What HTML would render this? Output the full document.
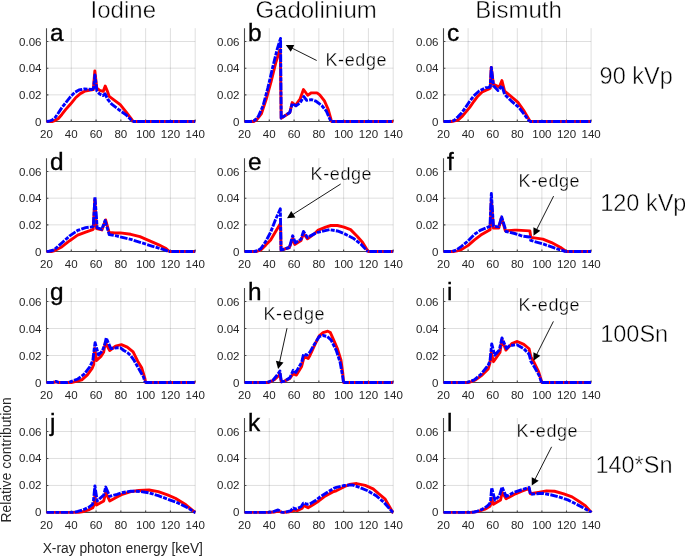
<!DOCTYPE html><html><head><meta charset="utf-8"><style>html,body{margin:0;padding:0;background:#fff;}svg{display:block;}text{filter:grayscale(1);font-family:"Liberation Sans", sans-serif;}</style></head><body>
<svg width="685" height="556" viewBox="0 0 685 556">
<rect width="685" height="556" fill="#fff"/>
<path d="M71.28 28.19V121.50M96.07 28.19V121.50M120.85 28.19V121.50M145.63 28.19V121.50M170.42 28.19V121.50M195.20 28.19V121.50M46.50 94.84H195.20M46.50 68.18H195.20M46.50 41.52H195.20" stroke="#262626" stroke-opacity="0.15" stroke-width="1" fill="none"/>
<path d="M269.28 28.19V121.50M294.07 28.19V121.50M318.85 28.19V121.50M343.63 28.19V121.50M368.42 28.19V121.50M393.20 28.19V121.50M244.50 94.84H393.20M244.50 68.18H393.20M244.50 41.52H393.20" stroke="#262626" stroke-opacity="0.15" stroke-width="1" fill="none"/>
<path d="M468.10 28.19V121.50M492.70 28.19V121.50M517.30 28.19V121.50M541.90 28.19V121.50M566.50 28.19V121.50M591.10 28.19V121.50M443.50 94.84H591.10M443.50 68.18H591.10M443.50 41.52H591.10" stroke="#262626" stroke-opacity="0.15" stroke-width="1" fill="none"/>
<path d="M71.28 158.19V251.50M96.07 158.19V251.50M120.85 158.19V251.50M145.63 158.19V251.50M170.42 158.19V251.50M195.20 158.19V251.50M46.50 224.84H195.20M46.50 198.18H195.20M46.50 171.52H195.20" stroke="#262626" stroke-opacity="0.15" stroke-width="1" fill="none"/>
<path d="M269.28 158.19V251.50M294.07 158.19V251.50M318.85 158.19V251.50M343.63 158.19V251.50M368.42 158.19V251.50M393.20 158.19V251.50M244.50 224.84H393.20M244.50 198.18H393.20M244.50 171.52H393.20" stroke="#262626" stroke-opacity="0.15" stroke-width="1" fill="none"/>
<path d="M468.10 158.19V251.50M492.70 158.19V251.50M517.30 158.19V251.50M541.90 158.19V251.50M566.50 158.19V251.50M591.10 158.19V251.50M443.50 224.84H591.10M443.50 198.18H591.10M443.50 171.52H591.10" stroke="#262626" stroke-opacity="0.15" stroke-width="1" fill="none"/>
<path d="M71.28 288.00V382.50M96.07 288.00V382.50M120.85 288.00V382.50M145.63 288.00V382.50M170.42 288.00V382.50M195.20 288.00V382.50M46.50 355.50H195.20M46.50 328.50H195.20M46.50 301.50H195.20" stroke="#262626" stroke-opacity="0.15" stroke-width="1" fill="none"/>
<path d="M269.28 288.00V382.50M294.07 288.00V382.50M318.85 288.00V382.50M343.63 288.00V382.50M368.42 288.00V382.50M393.20 288.00V382.50M244.50 355.50H393.20M244.50 328.50H393.20M244.50 301.50H393.20" stroke="#262626" stroke-opacity="0.15" stroke-width="1" fill="none"/>
<path d="M468.10 288.00V382.50M492.70 288.00V382.50M517.30 288.00V382.50M541.90 288.00V382.50M566.50 288.00V382.50M591.10 288.00V382.50M443.50 355.50H591.10M443.50 328.50H591.10M443.50 301.50H591.10" stroke="#262626" stroke-opacity="0.15" stroke-width="1" fill="none"/>
<path d="M71.28 418.04V512.40M96.07 418.04V512.40M120.85 418.04V512.40M145.63 418.04V512.40M170.42 418.04V512.40M195.20 418.04V512.40M46.50 485.44H195.20M46.50 458.48H195.20M46.50 431.52H195.20" stroke="#262626" stroke-opacity="0.15" stroke-width="1" fill="none"/>
<path d="M269.28 418.04V512.40M294.07 418.04V512.40M318.85 418.04V512.40M343.63 418.04V512.40M368.42 418.04V512.40M393.20 418.04V512.40M244.50 485.44H393.20M244.50 458.48H393.20M244.50 431.52H393.20" stroke="#262626" stroke-opacity="0.15" stroke-width="1" fill="none"/>
<path d="M468.10 418.04V512.40M492.70 418.04V512.40M517.30 418.04V512.40M541.90 418.04V512.40M566.50 418.04V512.40M591.10 418.04V512.40M443.50 485.44H591.10M443.50 458.48H591.10M443.50 431.52H591.10" stroke="#262626" stroke-opacity="0.15" stroke-width="1" fill="none"/>
<path d="M46.50 28.19V121.50H195.20M71.28 121.50v-1.9M96.07 121.50v-1.9M120.85 121.50v-1.9M145.63 121.50v-1.9M170.42 121.50v-1.9M195.20 121.50v-1.9M46.50 94.84h1.9M46.50 68.18h1.9M46.50 41.52h1.9" stroke="#4a4a4a" stroke-width="1.1" fill="none"/>
<text transform="translate(41.50 125.50) scale(1.05 1)" font-size="11" fill="#262626" text-anchor="end">0</text>
<text transform="translate(41.50 98.84) scale(1.05 1)" font-size="11" fill="#262626" text-anchor="end">0.02</text>
<text transform="translate(41.50 72.18) scale(1.05 1)" font-size="11" fill="#262626" text-anchor="end">0.04</text>
<text transform="translate(41.50 45.52) scale(1.05 1)" font-size="11" fill="#262626" text-anchor="end">0.06</text>
<text transform="translate(46.50 138.10) scale(1.05 1)" font-size="11" fill="#262626" text-anchor="middle">20</text>
<text transform="translate(71.28 138.10) scale(1.05 1)" font-size="11" fill="#262626" text-anchor="middle">40</text>
<text transform="translate(96.07 138.10) scale(1.05 1)" font-size="11" fill="#262626" text-anchor="middle">60</text>
<text transform="translate(120.85 138.10) scale(1.05 1)" font-size="11" fill="#262626" text-anchor="middle">80</text>
<text transform="translate(145.63 138.10) scale(1.05 1)" font-size="11" fill="#262626" text-anchor="middle">100</text>
<text transform="translate(170.42 138.10) scale(1.05 1)" font-size="11" fill="#262626" text-anchor="middle">120</text>
<text transform="translate(195.20 138.10) scale(1.05 1)" font-size="11" fill="#262626" text-anchor="middle">140</text>
<path d="M244.50 28.19V121.50H393.20M269.28 121.50v-1.9M294.07 121.50v-1.9M318.85 121.50v-1.9M343.63 121.50v-1.9M368.42 121.50v-1.9M393.20 121.50v-1.9M244.50 94.84h1.9M244.50 68.18h1.9M244.50 41.52h1.9" stroke="#4a4a4a" stroke-width="1.1" fill="none"/>
<text transform="translate(239.50 125.50) scale(1.05 1)" font-size="11" fill="#262626" text-anchor="end">0</text>
<text transform="translate(239.50 98.84) scale(1.05 1)" font-size="11" fill="#262626" text-anchor="end">0.02</text>
<text transform="translate(239.50 72.18) scale(1.05 1)" font-size="11" fill="#262626" text-anchor="end">0.04</text>
<text transform="translate(239.50 45.52) scale(1.05 1)" font-size="11" fill="#262626" text-anchor="end">0.06</text>
<text transform="translate(244.50 138.10) scale(1.05 1)" font-size="11" fill="#262626" text-anchor="middle">20</text>
<text transform="translate(269.28 138.10) scale(1.05 1)" font-size="11" fill="#262626" text-anchor="middle">40</text>
<text transform="translate(294.07 138.10) scale(1.05 1)" font-size="11" fill="#262626" text-anchor="middle">60</text>
<text transform="translate(318.85 138.10) scale(1.05 1)" font-size="11" fill="#262626" text-anchor="middle">80</text>
<text transform="translate(343.63 138.10) scale(1.05 1)" font-size="11" fill="#262626" text-anchor="middle">100</text>
<text transform="translate(368.42 138.10) scale(1.05 1)" font-size="11" fill="#262626" text-anchor="middle">120</text>
<text transform="translate(393.20 138.10) scale(1.05 1)" font-size="11" fill="#262626" text-anchor="middle">140</text>
<path d="M443.50 28.19V121.50H591.10M468.10 121.50v-1.9M492.70 121.50v-1.9M517.30 121.50v-1.9M541.90 121.50v-1.9M566.50 121.50v-1.9M591.10 121.50v-1.9M443.50 94.84h1.9M443.50 68.18h1.9M443.50 41.52h1.9" stroke="#4a4a4a" stroke-width="1.1" fill="none"/>
<text transform="translate(438.50 125.50) scale(1.05 1)" font-size="11" fill="#262626" text-anchor="end">0</text>
<text transform="translate(438.50 98.84) scale(1.05 1)" font-size="11" fill="#262626" text-anchor="end">0.02</text>
<text transform="translate(438.50 72.18) scale(1.05 1)" font-size="11" fill="#262626" text-anchor="end">0.04</text>
<text transform="translate(438.50 45.52) scale(1.05 1)" font-size="11" fill="#262626" text-anchor="end">0.06</text>
<text transform="translate(443.50 138.10) scale(1.05 1)" font-size="11" fill="#262626" text-anchor="middle">20</text>
<text transform="translate(468.10 138.10) scale(1.05 1)" font-size="11" fill="#262626" text-anchor="middle">40</text>
<text transform="translate(492.70 138.10) scale(1.05 1)" font-size="11" fill="#262626" text-anchor="middle">60</text>
<text transform="translate(517.30 138.10) scale(1.05 1)" font-size="11" fill="#262626" text-anchor="middle">80</text>
<text transform="translate(541.90 138.10) scale(1.05 1)" font-size="11" fill="#262626" text-anchor="middle">100</text>
<text transform="translate(566.50 138.10) scale(1.05 1)" font-size="11" fill="#262626" text-anchor="middle">120</text>
<text transform="translate(591.10 138.10) scale(1.05 1)" font-size="11" fill="#262626" text-anchor="middle">140</text>
<path d="M46.50 158.19V251.50H195.20M71.28 251.50v-1.9M96.07 251.50v-1.9M120.85 251.50v-1.9M145.63 251.50v-1.9M170.42 251.50v-1.9M195.20 251.50v-1.9M46.50 224.84h1.9M46.50 198.18h1.9M46.50 171.52h1.9" stroke="#4a4a4a" stroke-width="1.1" fill="none"/>
<text transform="translate(41.50 255.50) scale(1.05 1)" font-size="11" fill="#262626" text-anchor="end">0</text>
<text transform="translate(41.50 228.84) scale(1.05 1)" font-size="11" fill="#262626" text-anchor="end">0.02</text>
<text transform="translate(41.50 202.18) scale(1.05 1)" font-size="11" fill="#262626" text-anchor="end">0.04</text>
<text transform="translate(41.50 175.52) scale(1.05 1)" font-size="11" fill="#262626" text-anchor="end">0.06</text>
<text transform="translate(46.50 268.10) scale(1.05 1)" font-size="11" fill="#262626" text-anchor="middle">20</text>
<text transform="translate(71.28 268.10) scale(1.05 1)" font-size="11" fill="#262626" text-anchor="middle">40</text>
<text transform="translate(96.07 268.10) scale(1.05 1)" font-size="11" fill="#262626" text-anchor="middle">60</text>
<text transform="translate(120.85 268.10) scale(1.05 1)" font-size="11" fill="#262626" text-anchor="middle">80</text>
<text transform="translate(145.63 268.10) scale(1.05 1)" font-size="11" fill="#262626" text-anchor="middle">100</text>
<text transform="translate(170.42 268.10) scale(1.05 1)" font-size="11" fill="#262626" text-anchor="middle">120</text>
<text transform="translate(195.20 268.10) scale(1.05 1)" font-size="11" fill="#262626" text-anchor="middle">140</text>
<path d="M244.50 158.19V251.50H393.20M269.28 251.50v-1.9M294.07 251.50v-1.9M318.85 251.50v-1.9M343.63 251.50v-1.9M368.42 251.50v-1.9M393.20 251.50v-1.9M244.50 224.84h1.9M244.50 198.18h1.9M244.50 171.52h1.9" stroke="#4a4a4a" stroke-width="1.1" fill="none"/>
<text transform="translate(239.50 255.50) scale(1.05 1)" font-size="11" fill="#262626" text-anchor="end">0</text>
<text transform="translate(239.50 228.84) scale(1.05 1)" font-size="11" fill="#262626" text-anchor="end">0.02</text>
<text transform="translate(239.50 202.18) scale(1.05 1)" font-size="11" fill="#262626" text-anchor="end">0.04</text>
<text transform="translate(239.50 175.52) scale(1.05 1)" font-size="11" fill="#262626" text-anchor="end">0.06</text>
<text transform="translate(244.50 268.10) scale(1.05 1)" font-size="11" fill="#262626" text-anchor="middle">20</text>
<text transform="translate(269.28 268.10) scale(1.05 1)" font-size="11" fill="#262626" text-anchor="middle">40</text>
<text transform="translate(294.07 268.10) scale(1.05 1)" font-size="11" fill="#262626" text-anchor="middle">60</text>
<text transform="translate(318.85 268.10) scale(1.05 1)" font-size="11" fill="#262626" text-anchor="middle">80</text>
<text transform="translate(343.63 268.10) scale(1.05 1)" font-size="11" fill="#262626" text-anchor="middle">100</text>
<text transform="translate(368.42 268.10) scale(1.05 1)" font-size="11" fill="#262626" text-anchor="middle">120</text>
<text transform="translate(393.20 268.10) scale(1.05 1)" font-size="11" fill="#262626" text-anchor="middle">140</text>
<path d="M443.50 158.19V251.50H591.10M468.10 251.50v-1.9M492.70 251.50v-1.9M517.30 251.50v-1.9M541.90 251.50v-1.9M566.50 251.50v-1.9M591.10 251.50v-1.9M443.50 224.84h1.9M443.50 198.18h1.9M443.50 171.52h1.9" stroke="#4a4a4a" stroke-width="1.1" fill="none"/>
<text transform="translate(438.50 255.50) scale(1.05 1)" font-size="11" fill="#262626" text-anchor="end">0</text>
<text transform="translate(438.50 228.84) scale(1.05 1)" font-size="11" fill="#262626" text-anchor="end">0.02</text>
<text transform="translate(438.50 202.18) scale(1.05 1)" font-size="11" fill="#262626" text-anchor="end">0.04</text>
<text transform="translate(438.50 175.52) scale(1.05 1)" font-size="11" fill="#262626" text-anchor="end">0.06</text>
<text transform="translate(443.50 268.10) scale(1.05 1)" font-size="11" fill="#262626" text-anchor="middle">20</text>
<text transform="translate(468.10 268.10) scale(1.05 1)" font-size="11" fill="#262626" text-anchor="middle">40</text>
<text transform="translate(492.70 268.10) scale(1.05 1)" font-size="11" fill="#262626" text-anchor="middle">60</text>
<text transform="translate(517.30 268.10) scale(1.05 1)" font-size="11" fill="#262626" text-anchor="middle">80</text>
<text transform="translate(541.90 268.10) scale(1.05 1)" font-size="11" fill="#262626" text-anchor="middle">100</text>
<text transform="translate(566.50 268.10) scale(1.05 1)" font-size="11" fill="#262626" text-anchor="middle">120</text>
<text transform="translate(591.10 268.10) scale(1.05 1)" font-size="11" fill="#262626" text-anchor="middle">140</text>
<path d="M46.50 288.00V382.50H195.20M71.28 382.50v-1.9M96.07 382.50v-1.9M120.85 382.50v-1.9M145.63 382.50v-1.9M170.42 382.50v-1.9M195.20 382.50v-1.9M46.50 355.50h1.9M46.50 328.50h1.9M46.50 301.50h1.9" stroke="#4a4a4a" stroke-width="1.1" fill="none"/>
<text transform="translate(41.50 386.50) scale(1.05 1)" font-size="11" fill="#262626" text-anchor="end">0</text>
<text transform="translate(41.50 359.50) scale(1.05 1)" font-size="11" fill="#262626" text-anchor="end">0.02</text>
<text transform="translate(41.50 332.50) scale(1.05 1)" font-size="11" fill="#262626" text-anchor="end">0.04</text>
<text transform="translate(41.50 305.50) scale(1.05 1)" font-size="11" fill="#262626" text-anchor="end">0.06</text>
<text transform="translate(46.50 399.10) scale(1.05 1)" font-size="11" fill="#262626" text-anchor="middle">20</text>
<text transform="translate(71.28 399.10) scale(1.05 1)" font-size="11" fill="#262626" text-anchor="middle">40</text>
<text transform="translate(96.07 399.10) scale(1.05 1)" font-size="11" fill="#262626" text-anchor="middle">60</text>
<text transform="translate(120.85 399.10) scale(1.05 1)" font-size="11" fill="#262626" text-anchor="middle">80</text>
<text transform="translate(145.63 399.10) scale(1.05 1)" font-size="11" fill="#262626" text-anchor="middle">100</text>
<text transform="translate(170.42 399.10) scale(1.05 1)" font-size="11" fill="#262626" text-anchor="middle">120</text>
<text transform="translate(195.20 399.10) scale(1.05 1)" font-size="11" fill="#262626" text-anchor="middle">140</text>
<path d="M244.50 288.00V382.50H393.20M269.28 382.50v-1.9M294.07 382.50v-1.9M318.85 382.50v-1.9M343.63 382.50v-1.9M368.42 382.50v-1.9M393.20 382.50v-1.9M244.50 355.50h1.9M244.50 328.50h1.9M244.50 301.50h1.9" stroke="#4a4a4a" stroke-width="1.1" fill="none"/>
<text transform="translate(239.50 386.50) scale(1.05 1)" font-size="11" fill="#262626" text-anchor="end">0</text>
<text transform="translate(239.50 359.50) scale(1.05 1)" font-size="11" fill="#262626" text-anchor="end">0.02</text>
<text transform="translate(239.50 332.50) scale(1.05 1)" font-size="11" fill="#262626" text-anchor="end">0.04</text>
<text transform="translate(239.50 305.50) scale(1.05 1)" font-size="11" fill="#262626" text-anchor="end">0.06</text>
<text transform="translate(244.50 399.10) scale(1.05 1)" font-size="11" fill="#262626" text-anchor="middle">20</text>
<text transform="translate(269.28 399.10) scale(1.05 1)" font-size="11" fill="#262626" text-anchor="middle">40</text>
<text transform="translate(294.07 399.10) scale(1.05 1)" font-size="11" fill="#262626" text-anchor="middle">60</text>
<text transform="translate(318.85 399.10) scale(1.05 1)" font-size="11" fill="#262626" text-anchor="middle">80</text>
<text transform="translate(343.63 399.10) scale(1.05 1)" font-size="11" fill="#262626" text-anchor="middle">100</text>
<text transform="translate(368.42 399.10) scale(1.05 1)" font-size="11" fill="#262626" text-anchor="middle">120</text>
<text transform="translate(393.20 399.10) scale(1.05 1)" font-size="11" fill="#262626" text-anchor="middle">140</text>
<path d="M443.50 288.00V382.50H591.10M468.10 382.50v-1.9M492.70 382.50v-1.9M517.30 382.50v-1.9M541.90 382.50v-1.9M566.50 382.50v-1.9M591.10 382.50v-1.9M443.50 355.50h1.9M443.50 328.50h1.9M443.50 301.50h1.9" stroke="#4a4a4a" stroke-width="1.1" fill="none"/>
<text transform="translate(438.50 386.50) scale(1.05 1)" font-size="11" fill="#262626" text-anchor="end">0</text>
<text transform="translate(438.50 359.50) scale(1.05 1)" font-size="11" fill="#262626" text-anchor="end">0.02</text>
<text transform="translate(438.50 332.50) scale(1.05 1)" font-size="11" fill="#262626" text-anchor="end">0.04</text>
<text transform="translate(438.50 305.50) scale(1.05 1)" font-size="11" fill="#262626" text-anchor="end">0.06</text>
<text transform="translate(443.50 399.10) scale(1.05 1)" font-size="11" fill="#262626" text-anchor="middle">20</text>
<text transform="translate(468.10 399.10) scale(1.05 1)" font-size="11" fill="#262626" text-anchor="middle">40</text>
<text transform="translate(492.70 399.10) scale(1.05 1)" font-size="11" fill="#262626" text-anchor="middle">60</text>
<text transform="translate(517.30 399.10) scale(1.05 1)" font-size="11" fill="#262626" text-anchor="middle">80</text>
<text transform="translate(541.90 399.10) scale(1.05 1)" font-size="11" fill="#262626" text-anchor="middle">100</text>
<text transform="translate(566.50 399.10) scale(1.05 1)" font-size="11" fill="#262626" text-anchor="middle">120</text>
<text transform="translate(591.10 399.10) scale(1.05 1)" font-size="11" fill="#262626" text-anchor="middle">140</text>
<path d="M46.50 418.04V512.40H195.20M71.28 512.40v-1.9M96.07 512.40v-1.9M120.85 512.40v-1.9M145.63 512.40v-1.9M170.42 512.40v-1.9M195.20 512.40v-1.9M46.50 485.44h1.9M46.50 458.48h1.9M46.50 431.52h1.9" stroke="#4a4a4a" stroke-width="1.1" fill="none"/>
<text transform="translate(41.50 516.40) scale(1.05 1)" font-size="11" fill="#262626" text-anchor="end">0</text>
<text transform="translate(41.50 489.44) scale(1.05 1)" font-size="11" fill="#262626" text-anchor="end">0.02</text>
<text transform="translate(41.50 462.48) scale(1.05 1)" font-size="11" fill="#262626" text-anchor="end">0.04</text>
<text transform="translate(41.50 435.52) scale(1.05 1)" font-size="11" fill="#262626" text-anchor="end">0.06</text>
<text transform="translate(46.50 529.00) scale(1.05 1)" font-size="11" fill="#262626" text-anchor="middle">20</text>
<text transform="translate(71.28 529.00) scale(1.05 1)" font-size="11" fill="#262626" text-anchor="middle">40</text>
<text transform="translate(96.07 529.00) scale(1.05 1)" font-size="11" fill="#262626" text-anchor="middle">60</text>
<text transform="translate(120.85 529.00) scale(1.05 1)" font-size="11" fill="#262626" text-anchor="middle">80</text>
<text transform="translate(145.63 529.00) scale(1.05 1)" font-size="11" fill="#262626" text-anchor="middle">100</text>
<text transform="translate(170.42 529.00) scale(1.05 1)" font-size="11" fill="#262626" text-anchor="middle">120</text>
<text transform="translate(195.20 529.00) scale(1.05 1)" font-size="11" fill="#262626" text-anchor="middle">140</text>
<path d="M244.50 418.04V512.40H393.20M269.28 512.40v-1.9M294.07 512.40v-1.9M318.85 512.40v-1.9M343.63 512.40v-1.9M368.42 512.40v-1.9M393.20 512.40v-1.9M244.50 485.44h1.9M244.50 458.48h1.9M244.50 431.52h1.9" stroke="#4a4a4a" stroke-width="1.1" fill="none"/>
<text transform="translate(239.50 516.40) scale(1.05 1)" font-size="11" fill="#262626" text-anchor="end">0</text>
<text transform="translate(239.50 489.44) scale(1.05 1)" font-size="11" fill="#262626" text-anchor="end">0.02</text>
<text transform="translate(239.50 462.48) scale(1.05 1)" font-size="11" fill="#262626" text-anchor="end">0.04</text>
<text transform="translate(239.50 435.52) scale(1.05 1)" font-size="11" fill="#262626" text-anchor="end">0.06</text>
<text transform="translate(244.50 529.00) scale(1.05 1)" font-size="11" fill="#262626" text-anchor="middle">20</text>
<text transform="translate(269.28 529.00) scale(1.05 1)" font-size="11" fill="#262626" text-anchor="middle">40</text>
<text transform="translate(294.07 529.00) scale(1.05 1)" font-size="11" fill="#262626" text-anchor="middle">60</text>
<text transform="translate(318.85 529.00) scale(1.05 1)" font-size="11" fill="#262626" text-anchor="middle">80</text>
<text transform="translate(343.63 529.00) scale(1.05 1)" font-size="11" fill="#262626" text-anchor="middle">100</text>
<text transform="translate(368.42 529.00) scale(1.05 1)" font-size="11" fill="#262626" text-anchor="middle">120</text>
<text transform="translate(393.20 529.00) scale(1.05 1)" font-size="11" fill="#262626" text-anchor="middle">140</text>
<path d="M443.50 418.04V512.40H591.10M468.10 512.40v-1.9M492.70 512.40v-1.9M517.30 512.40v-1.9M541.90 512.40v-1.9M566.50 512.40v-1.9M591.10 512.40v-1.9M443.50 485.44h1.9M443.50 458.48h1.9M443.50 431.52h1.9" stroke="#4a4a4a" stroke-width="1.1" fill="none"/>
<text transform="translate(438.50 516.40) scale(1.05 1)" font-size="11" fill="#262626" text-anchor="end">0</text>
<text transform="translate(438.50 489.44) scale(1.05 1)" font-size="11" fill="#262626" text-anchor="end">0.02</text>
<text transform="translate(438.50 462.48) scale(1.05 1)" font-size="11" fill="#262626" text-anchor="end">0.04</text>
<text transform="translate(438.50 435.52) scale(1.05 1)" font-size="11" fill="#262626" text-anchor="end">0.06</text>
<text transform="translate(443.50 529.00) scale(1.05 1)" font-size="11" fill="#262626" text-anchor="middle">20</text>
<text transform="translate(468.10 529.00) scale(1.05 1)" font-size="11" fill="#262626" text-anchor="middle">40</text>
<text transform="translate(492.70 529.00) scale(1.05 1)" font-size="11" fill="#262626" text-anchor="middle">60</text>
<text transform="translate(517.30 529.00) scale(1.05 1)" font-size="11" fill="#262626" text-anchor="middle">80</text>
<text transform="translate(541.90 529.00) scale(1.05 1)" font-size="11" fill="#262626" text-anchor="middle">100</text>
<text transform="translate(566.50 529.00) scale(1.05 1)" font-size="11" fill="#262626" text-anchor="middle">120</text>
<text transform="translate(591.10 529.00) scale(1.05 1)" font-size="11" fill="#262626" text-anchor="middle">140</text>
<path d="M46.50 121.50L52.08 121.50L54.00 120.90L58.15 118.70L61.87 114.44L65.58 109.64L70.54 104.04L75.37 98.04L80.33 93.64L85.16 90.97L90.37 90.04L93.34 89.51L94.83 70.85L96.81 88.17L99.66 90.44L103.25 91.37L105.24 86.04L107.22 90.84L109.20 96.44L114.53 100.31L120.23 104.70L126.05 111.90L131.88 119.63L133.24 121.50L195.20 121.50" stroke="#ff0000" stroke-width="2.90" fill="none" stroke-linejoin="round"/>
<path d="M46.50 121.50L48.98 121.23L52.08 120.03L55.17 117.50L58.15 113.24L61.87 107.64L66.20 102.17L70.54 96.71L74.75 92.44L78.97 90.04L84.42 88.84L92.10 89.51L93.59 88.17L94.95 74.84L96.81 90.84L99.66 94.04L102.88 95.51L104.99 93.77L107.71 99.24L111.68 104.17L119.36 110.04L126.05 114.83L132.75 121.50" stroke="#0000ff" stroke-width="2.90" fill="none" stroke-linejoin="round" stroke-dasharray="7.65 1.2 4.05 1.2"/>
<path d="M132.75 121.50L195.20 121.50" stroke="#0000ff" stroke-width="2.90" fill="none" stroke-dasharray="7.65 1.2 4.05 1.2" stroke-dashoffset="9.60"/>
<path d="M244.50 121.50L253.79 121.50L256.64 119.77L261.48 113.50L266.19 99.24L271.02 81.78L275.73 62.85L279.82 49.92L280.31 49.52L281.18 118.17L289.85 112.44L292.21 102.57L295.43 105.50L300.14 98.84L303.48 89.51L307.70 95.24L311.41 92.84L316.99 92.84L319.72 94.84L324.43 100.84L328.14 109.24L330.99 119.50L331.49 121.50L393.20 121.50" stroke="#ff0000" stroke-width="2.90" fill="none" stroke-linejoin="round"/>
<path d="M244.50 121.50L250.70 121.50L254.41 120.43L258.25 116.57L263.09 105.64L267.80 88.17L272.63 67.65L277.34 48.58L280.56 38.45L281.18 118.17L289.85 112.44L292.21 103.50L295.93 105.90L300.14 102.84L303.86 96.57L306.71 100.31L311.41 99.64L316.00 101.24L321.70 105.50L326.28 110.97L330.00 119.50L331.24 121.50" stroke="#0000ff" stroke-width="2.90" fill="none" stroke-linejoin="round" stroke-dasharray="7.65 1.2 4.05 1.2"/>
<path d="M331.24 121.50L393.20 121.50" stroke="#0000ff" stroke-width="2.90" fill="none" stroke-dasharray="7.65 1.2 4.05 1.2" stroke-dashoffset="8.69"/>
<path d="M443.50 121.50L451.50 121.50L457.89 120.17L461.83 116.70L465.76 112.17L469.70 107.37L473.76 101.50L477.82 96.17L482.12 91.91L485.57 90.31L489.13 88.84L490.24 88.17L491.22 67.38L493.44 84.44L499.34 87.11L501.93 80.58L504.63 91.11L508.57 94.44L517.79 102.17L524.31 111.37L530.22 121.50L591.10 121.50" stroke="#ff0000" stroke-width="2.90" fill="none" stroke-linejoin="round"/>
<path d="M443.50 121.50L449.04 121.50L453.95 120.57L457.89 116.83L461.83 112.70L465.76 107.10L469.70 101.24L473.76 95.91L479.17 90.97L485.57 87.78L488.64 87.38L490.24 86.58L491.35 67.51L493.44 85.78L497.99 90.44L501.93 85.78L504.63 94.44L511.15 100.84L519.02 107.50L529.60 121.50" stroke="#0000ff" stroke-width="2.90" fill="none" stroke-linejoin="round" stroke-dasharray="7.65 1.2 4.05 1.2"/>
<path d="M529.60 121.50L591.10 121.50" stroke="#0000ff" stroke-width="2.90" fill="none" stroke-dasharray="7.65 1.2 4.05 1.2" stroke-dashoffset="5.15"/>
<path d="M46.50 251.50L51.46 251.50L53.94 250.83L61.74 246.97L69.67 240.70L77.60 235.10L85.66 232.04L92.72 229.64L93.22 229.24L94.83 199.51L96.56 228.57L101.89 229.91L105.61 219.91L109.20 232.57L115.15 232.97L120.35 232.84L130.76 234.30L139.93 236.70L149.10 240.57L158.27 244.57L166.08 248.57L169.43 251.50L195.20 251.50" stroke="#ff0000" stroke-width="2.90" fill="none" stroke-linejoin="round"/>
<path d="M46.50 251.50L48.98 251.23L53.94 250.03L61.74 242.97L69.67 235.90L77.60 230.44L85.66 227.64L91.85 226.84L93.34 226.17L94.95 196.85L97.18 227.91L101.89 229.24L105.11 220.57L109.20 234.57L116.51 235.90L124.44 237.90L130.76 239.37L141.30 242.70L151.83 246.03L162.36 249.23L168.81 251.50" stroke="#0000ff" stroke-width="2.90" fill="none" stroke-linejoin="round" stroke-dasharray="7.65 1.2 4.05 1.2"/>
<path d="M168.81 251.50L195.20 251.50" stroke="#0000ff" stroke-width="2.90" fill="none" stroke-dasharray="7.65 1.2 4.05 1.2" stroke-dashoffset="11.56"/>
<path d="M244.50 251.50L256.64 251.50L260.86 249.90L265.69 245.10L270.65 239.90L275.36 232.04L279.82 224.57L280.56 223.64L281.06 250.17L289.36 247.50L292.83 238.17L294.69 244.44L301.01 240.44L303.48 233.50L307.45 238.84L313.89 234.17L317.73 230.44L325.67 227.11L330.87 225.51L337.44 225.51L344.01 227.11L350.57 229.64L357.14 236.30L362.47 242.17L367.67 250.70L368.42 251.50L393.20 251.50" stroke="#ff0000" stroke-width="2.90" fill="none" stroke-linejoin="round"/>
<path d="M244.50 251.50L254.41 251.50L257.51 250.70L260.86 248.57L265.69 241.50L270.65 232.17L275.36 219.91L280.31 208.84L281.06 250.17L289.36 247.50L292.70 235.77L295.31 242.84L301.01 239.10L303.48 231.50L307.45 237.50L315.13 233.37L317.73 232.30L329.51 229.64L337.44 230.97L344.01 233.50L353.17 238.17L360.98 244.17L367.67 251.50" stroke="#0000ff" stroke-width="2.90" fill="none" stroke-linejoin="round" stroke-dasharray="7.65 1.2 4.05 1.2"/>
<path d="M367.67 251.50L393.20 251.50" stroke="#0000ff" stroke-width="2.90" fill="none" stroke-dasharray="7.65 1.2 4.05 1.2" stroke-dashoffset="12.42"/>
<path d="M443.50 251.50L453.34 251.50L457.15 250.83L461.83 249.37L468.22 245.37L474.50 239.90L480.77 235.10L488.64 230.44L490.12 229.64L491.35 200.85L493.44 228.17L498.73 228.17L501.43 217.64L505.37 230.84L514.72 230.17L516.93 230.17L529.85 230.84L530.83 237.37L542.88 239.10L551.49 242.57L560.23 247.23L566.25 251.50L591.10 251.50" stroke="#ff0000" stroke-width="2.90" fill="none" stroke-linejoin="round"/>
<path d="M443.50 251.50L452.11 251.50L456.29 250.03L461.83 246.17L468.22 240.70L474.50 234.30L480.77 230.04L488.64 226.84L489.99 226.17L491.35 193.51L493.44 226.17L498.73 226.84L501.68 216.84L506.11 231.50L514.72 233.50L522.71 236.17L529.85 236.97L530.71 240.44L542.88 243.90L554.94 248.17L565.39 251.50" stroke="#0000ff" stroke-width="2.90" fill="none" stroke-linejoin="round" stroke-dasharray="7.65 1.2 4.05 1.2"/>
<path d="M565.39 251.50L591.10 251.50" stroke="#0000ff" stroke-width="2.90" fill="none" stroke-dasharray="7.65 1.2 4.05 1.2" stroke-dashoffset="5.64"/>
<path d="M46.50 382.50L52.70 382.50L55.79 381.82L58.89 382.50L71.28 382.50L76.24 381.42L81.82 379.80L87.39 374.94L92.10 368.46L93.71 364.55L94.70 348.48L96.56 360.50L100.90 356.44L103.75 351.86L105.36 342.54L109.70 350.50L115.52 346.05L121.35 344.70L127.29 347.13L133.12 351.86L137.70 361.17L141.67 367.79L144.89 378.45L145.63 382.50L195.20 382.50" stroke="#ff0000" stroke-width="2.90" fill="none" stroke-linejoin="round"/>
<path d="M46.50 382.50L52.70 382.50L55.79 381.42L58.89 382.50L67.57 382.50L70.04 381.82L77.85 378.99L84.17 374.13L89.75 366.84L92.84 360.50L94.08 350.10L95.08 342.68L98.54 354.96L102.39 350.91L104.74 344.56L106.23 337.95L110.81 348.48L117.38 347.81L120.48 347.81L123.82 350.50L127.29 352.53L130.39 355.23L133.74 359.82L138.94 369.00L143.53 377.10L145.26 382.50" stroke="#0000ff" stroke-width="2.90" fill="none" stroke-linejoin="round" stroke-dasharray="7.65 1.2 4.05 1.2"/>
<path d="M145.26 382.50L195.20 382.50" stroke="#0000ff" stroke-width="2.90" fill="none" stroke-dasharray="7.65 1.2 4.05 1.2" stroke-dashoffset="0.51"/>
<path d="M244.50 382.50L268.91 382.50L274.12 379.80L278.70 375.75L279.94 373.73L281.30 381.82L284.53 381.15L289.85 378.45L293.20 373.73L296.42 375.07L301.63 366.44L304.23 356.44L308.19 358.47L310.05 355.23L313.40 347.81L315.26 343.89L319.22 335.93L323.06 332.55L327.77 331.20L330.37 332.55L333.60 339.84L337.56 349.15L340.91 359.82L342.77 373.19L343.51 382.50L393.20 382.50" stroke="#ff0000" stroke-width="2.90" fill="none" stroke-linejoin="round"/>
<path d="M244.50 382.50L266.81 382.50L272.75 380.48L278.08 373.73L279.94 371.02L281.30 381.82L284.77 381.15L289.85 377.77L293.20 370.35L295.80 372.38L301.63 362.38L303.61 354.15L306.95 355.23L310.05 351.86L313.40 346.05L319.22 336.47L323.06 335.52L327.15 336.47L330.99 339.84L336.32 350.50L340.16 362.52L342.77 377.10L343.51 382.50" stroke="#0000ff" stroke-width="2.90" fill="none" stroke-linejoin="round" stroke-dasharray="7.65 1.2 4.05 1.2"/>
<path d="M343.51 382.50L393.20 382.50" stroke="#0000ff" stroke-width="2.90" fill="none" stroke-dasharray="7.65 1.2 4.05 1.2" stroke-dashoffset="2.36"/>
<path d="M443.50 382.50L469.08 382.50L475.60 379.80L482.12 375.07L488.15 369.00L490.12 362.38L491.35 352.53L493.44 361.71L499.96 352.53L501.93 339.84L505.98 350.10L511.76 343.62L517.30 341.46L523.82 344.43L529.11 348.75L530.83 356.71L534.27 362.79L538.58 371.70L541.90 382.50L591.10 382.50" stroke="#ff0000" stroke-width="2.90" fill="none" stroke-linejoin="round"/>
<path d="M443.50 382.50L466.87 382.50L474.25 379.80L480.89 374.40L488.15 365.22L489.99 360.90L491.72 343.89L494.67 355.23L499.34 350.10L501.93 337.95L506.48 348.48L510.04 345.24L512.38 345.24L516.93 344.70L523.82 348.75L529.11 354.15L530.83 361.17L535.13 368.19L539.44 376.15L541.53 382.50" stroke="#0000ff" stroke-width="2.90" fill="none" stroke-linejoin="round" stroke-dasharray="7.65 1.2 4.05 1.2"/>
<path d="M541.53 382.50L591.10 382.50" stroke="#0000ff" stroke-width="2.90" fill="none" stroke-dasharray="7.65 1.2 4.05 1.2" stroke-dashoffset="0.18"/>
<path d="M46.50 512.40L75.00 512.40L78.72 512.27L83.55 511.46L89.38 509.57L92.84 507.68L93.96 504.99L94.89 495.68L96.56 504.99L103.75 500.94L105.73 492.31L109.70 500.94L117.01 496.90L121.47 494.61L130.76 491.64L138.69 490.56L149.10 490.02L158.27 491.64L167.44 494.88L175.37 498.25L185.91 504.85L195.08 512.40L195.20 512.40" stroke="#ff0000" stroke-width="2.90" fill="none" stroke-linejoin="round"/>
<path d="M46.50 512.40L71.28 512.40L74.38 512.13L77.73 511.46L82.44 510.11L88.26 507.55L92.35 504.58L93.46 500.94L94.89 485.84L97.18 500.94L103.75 495.01L105.73 487.06L109.70 496.36L117.01 494.34L121.47 492.85L130.76 491.10L139.93 491.51L149.10 492.85L158.27 495.68L167.44 499.05L177.98 502.96L187.15 507.55L195.08 512.40L195.20 512.40" stroke="#0000ff" stroke-width="2.90" fill="none" stroke-linejoin="round" stroke-dasharray="7.65 1.2 4.05 1.2"/>
<path d="M244.50 512.40L269.28 512.40L274.24 512.00L278.33 511.05L281.55 512.13L283.41 512.40L287.87 512.00L292.33 511.05L293.94 510.11L297.16 510.65L302.25 508.09L303.48 505.53L308.07 507.68L313.03 504.72L318.85 500.94L325.42 495.95L333.72 491.51L336.32 490.83L344.25 486.79L349.46 484.50L356.64 483.55L365.19 485.44L373.13 488.81L378.33 493.39L384.90 498.79L392.83 512.40L393.20 512.40" stroke="#ff0000" stroke-width="2.90" fill="none" stroke-linejoin="round"/>
<path d="M244.50 512.40L266.81 512.40L272.75 511.86L278.08 509.97L280.06 510.92L281.55 512.13L283.41 512.40L286.26 511.86L290.35 510.92L293.32 507.95L295.55 509.03L299.77 507.41L301.38 506.33L303.48 503.10L307.20 504.31L310.55 503.50L315.50 500.54L320.46 496.76L327.03 492.45L333.72 488.41L336.32 487.46L344.25 485.44L352.06 484.90L359.87 487.46L367.80 490.83L375.73 495.42L383.66 502.02L392.83 512.40L393.20 512.40" stroke="#0000ff" stroke-width="2.90" fill="none" stroke-linejoin="round" stroke-dasharray="7.65 1.2 4.05 1.2"/>
<path d="M443.50 512.40L471.79 512.40L477.57 511.59L484.95 509.16L489.99 506.33L490.98 503.64L491.59 498.25L493.44 504.31L500.57 500.00L502.17 492.31L506.11 498.79L515.46 493.80L521.85 491.24L529.11 488.41L530.34 493.80L538.33 492.31L546.45 490.83L554.57 491.24L563.79 493.80L572.04 496.90L579.17 501.48L585.32 505.66L590.85 511.86L591.10 512.40" stroke="#ff0000" stroke-width="2.90" fill="none" stroke-linejoin="round"/>
<path d="M443.50 512.40L470.56 512.40L474.25 512.00L477.57 511.19L482.00 509.30L487.04 506.33L489.62 503.77L490.61 500.27L491.72 487.73L494.91 500.27L499.47 495.82L502.05 487.06L506.11 496.36L513.98 492.31L521.85 489.75L529.11 487.46L530.46 494.34L542.39 493.26L550.51 494.74L558.75 496.90L567.85 499.86L576.09 504.04L583.23 507.68L590.85 512.00L591.10 512.40" stroke="#0000ff" stroke-width="2.90" fill="none" stroke-linejoin="round" stroke-dasharray="7.65 1.2 4.05 1.2"/>
<text x="49.90" y="40.80" font-size="24.4" fill="#000" stroke="#000" stroke-width="0.35">a</text>
<text x="247.90" y="40.80" font-size="24.4" fill="#000" stroke="#000" stroke-width="0.35">b</text>
<text x="446.90" y="40.80" font-size="24.4" fill="#000" stroke="#000" stroke-width="0.35">c</text>
<text x="49.90" y="169.80" font-size="24.4" fill="#000" stroke="#000" stroke-width="0.35">d</text>
<text x="247.90" y="169.80" font-size="24.4" fill="#000" stroke="#000" stroke-width="0.35">e</text>
<text x="446.90" y="169.80" font-size="24.4" fill="#000" stroke="#000" stroke-width="0.35">f</text>
<text x="49.90" y="300.40" font-size="24.4" fill="#000" stroke="#000" stroke-width="0.35">g</text>
<text x="247.90" y="300.40" font-size="24.4" fill="#000" stroke="#000" stroke-width="0.35">h</text>
<text x="446.90" y="300.40" font-size="24.4" fill="#000" stroke="#000" stroke-width="0.35">i</text>
<text x="49.90" y="431.10" font-size="24.4" fill="#000" stroke="#000" stroke-width="0.35">j</text>
<text x="247.90" y="431.10" font-size="24.4" fill="#000" stroke="#000" stroke-width="0.35">k</text>
<text x="446.90" y="431.10" font-size="24.4" fill="#000" stroke="#000" stroke-width="0.35">l</text>
<text x="90.60" y="18.0" font-size="24" fill="#000" stroke="#fff" stroke-width="0.45">Iodine</text>
<text x="255.40" y="18.0" font-size="24" fill="#000" stroke="#fff" stroke-width="0.45">Gadolinium</text>
<text x="475.20" y="18.0" font-size="24" fill="#000" stroke="#fff" stroke-width="0.45">Bismuth</text>
<text x="599.60" y="84.40" font-size="23.5" fill="#000" stroke="#fff" stroke-width="0.45">90 kVp</text>
<text x="600.20" y="211.10" font-size="23.5" fill="#000" stroke="#fff" stroke-width="0.45">120 kVp</text>
<text x="600.20" y="341.60" font-size="23.5" fill="#000" stroke="#fff" stroke-width="0.45">100Sn</text>
<text x="595.40" y="472.70" font-size="23.5" fill="#000" stroke="#fff" stroke-width="0.45">140*Sn</text>
<text x="122.8" y="552.8" font-size="13.8" fill="#262626" text-anchor="middle">X-ray photon energy [keV]</text>
<text transform="translate(11.0 459.9) rotate(-90)" font-size="13.8" fill="#262626" text-anchor="middle">Relative contribution</text>
<text x="325.50" y="65.80" font-size="18" fill="#000" stroke="#fff" stroke-width="0.3" textLength="61" lengthAdjust="spacing">K-edge</text>
<path d="M316.70 60.50L291.61 47.91" stroke="#000" stroke-width="0.9" fill="none"/>
<path d="M285.80 45.00L294.25 44.88L290.76 51.85Z" fill="#000"/>
<text x="310.60" y="179.90" font-size="18" fill="#000" stroke="#fff" stroke-width="0.3" textLength="61" lengthAdjust="spacing">K-edge</text>
<path d="M340.70 184.00L292.48 214.71" stroke="#000" stroke-width="0.9" fill="none"/>
<path d="M287.00 218.20L291.23 210.88L295.42 217.46Z" fill="#000"/>
<text x="518.60" y="186.60" font-size="18" fill="#000" stroke="#fff" stroke-width="0.3" textLength="61" lengthAdjust="spacing">K-edge</text>
<path d="M553.60 196.10L536.44 230.00" stroke="#000" stroke-width="0.9" fill="none"/>
<path d="M533.50 235.80L533.41 227.35L540.37 230.87Z" fill="#000"/>
<text x="263.50" y="319.90" font-size="18" fill="#000" stroke="#fff" stroke-width="0.3" textLength="61" lengthAdjust="spacing">K-edge</text>
<path d="M287.00 328.20L279.49 362.55" stroke="#000" stroke-width="0.9" fill="none"/>
<path d="M278.10 368.90L275.89 360.74L283.51 362.41Z" fill="#000"/>
<text x="518.60" y="310.90" font-size="18" fill="#000" stroke="#fff" stroke-width="0.3" textLength="61" lengthAdjust="spacing">K-edge</text>
<path d="M553.40 321.40L536.43 355.00" stroke="#000" stroke-width="0.9" fill="none"/>
<path d="M533.50 360.80L533.40 352.35L540.36 355.86Z" fill="#000"/>
<text x="516.60" y="436.70" font-size="18" fill="#000" stroke="#fff" stroke-width="0.3" textLength="61" lengthAdjust="spacing">K-edge</text>
<path d="M551.60 446.80L534.75 479.81" stroke="#000" stroke-width="0.9" fill="none"/>
<path d="M531.80 485.60L531.74 477.15L538.68 480.69Z" fill="#000"/>
</svg></body></html>
